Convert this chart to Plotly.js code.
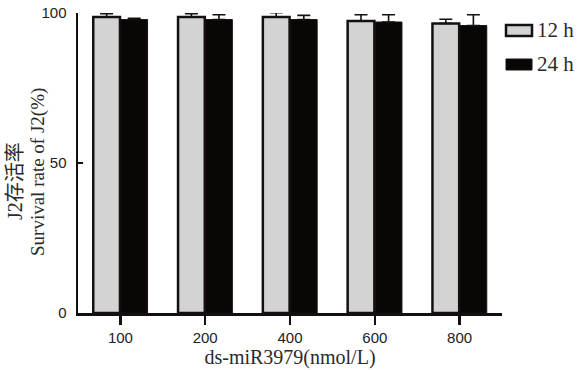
<!DOCTYPE html>
<html>
<head>
<meta charset="utf-8">
<script src="https://cdn.plot.ly/plotly-3.0.1.min.js"></script>
<style>html,body{margin:0;padding:0;background:#fff;}#chart{width:582px;height:370px;}</style>
</head>
<body>
<div id="chart"></div>
<script>
// ---- data ----
const categories = ["100", "200", "400", "600", "800"];
const seriesNames = ["12 h", "24 h"];
const survival12h = [98.7, 98.7, 98.7, 97.3, 96.5];
const survival24h = [97.8, 97.8, 97.8, 97.0, 95.8];
const err12h = [1.1, 1.1, 1.4, 2.1, 1.4];
const err24h = [0.4, 1.6, 1.4, 2.4, 3.6];
const yTickVals = [0, 50, 100];
const xTitle = "ds-miR3979(nmol/L)";
const yTitleLine1 = "J2存活率";
const yTitleLine2 = "Survival rate of J2(%)";

const serif = "'Liberation Serif', 'Times New Roman', 'Noto Sans CJK SC', serif";
const sans = "'Liberation Sans', Arial, sans-serif";
const ink = "#141010";

function zeros(n){ const a=[]; for(let i=0;i<n;i++) a.push(0); return a; }

const traces = [
  {
    type: "bar", name: seriesNames[0], x: categories, y: survival12h,
    marker: {color: "#d3d3d3", line: {color: ink, width: 2.5}},
    error_y: {type: "data", array: err12h, arrayminus: zeros(err12h.length), symmetric: false,
              color: ink, thickness: 1.6, width: 6.5},
    showlegend: false, hoverinfo: "none"
  },
  {
    type: "bar", name: seriesNames[1], x: categories, y: survival24h,
    marker: {color: "#0a0606", line: {color: ink, width: 1}},
    error_y: {type: "data", array: err24h, arrayminus: zeros(err24h.length), symmetric: false,
              color: ink, thickness: 1.6, width: 6.5},
    showlegend: false, hoverinfo: "none"
  }
];

// plot area in pixels: x 78..502, y 13..313
const L = 78, R = 502, T = 13, B = 313;
const px = v => (v - L) / (R - L);
const py = v => (B - v) / (B - T);

const layout = {
  width: 582, height: 370,
  margin: {l: L, r: 582 - R, t: T, b: 370 - B, pad: 0},
  paper_bgcolor: "#ffffff", plot_bgcolor: "#ffffff",
  barmode: "group", bargap: 0.35, bargroupgap: 0.03,
  showlegend: false,
  xaxis: {
    type: "category", range: [-0.5, 4.5],
    showline: true, linecolor: ink, linewidth: 2.5,
    ticks: "outside", ticklen: 9, tickwidth: 2.5, tickcolor: ink,
    showgrid: false, zeroline: false,
    tickfont: {family: sans, size: 15, color: "#222"},
    title: {text: xTitle, font: {family: serif, size: 20, color: "#2a2a2a"}, standoff: 6}
  },
  yaxis: {
    range: [0, 100], tickvals: yTickVals, ticktext: yTickVals.map(String),
    showline: true, linecolor: ink, linewidth: 2.5,
    ticks: "inside", ticklen: 5, tickwidth: 2.5, tickcolor: ink,
    showgrid: false, zeroline: false,
    tickfont: {family: sans, size: 15, color: "#222"},
    ticklabelstandoff: 6
  },
  shapes: [
    {type: "rect", xref: "paper", yref: "paper", x0: px(506), x1: px(532), y0: py(36), y1: py(25),
     fillcolor: "#d3d3d3", line: {color: ink, width: 2.5}},
    {type: "rect", xref: "paper", yref: "paper", x0: px(506), x1: px(532), y0: py(70), y1: py(59),
     fillcolor: "#0a0606", line: {color: ink, width: 1}}
  ],
  annotations: [
    {text: seriesNames[0], xref: "paper", yref: "paper", x: px(535), y: py(30), xanchor: "left", yanchor: "middle",
     showarrow: false, font: {family: serif, size: 21, color: "#2a2a2a"}},
    {text: seriesNames[1], xref: "paper", yref: "paper", x: px(535), y: py(64), xanchor: "left", yanchor: "middle",
     showarrow: false, font: {family: serif, size: 21, color: "#2a2a2a"}},
    {text: yTitleLine1, xref: "paper", yref: "paper", x: px(15), y: py(181), xanchor: "center", yanchor: "middle",
     textangle: -90, showarrow: false, font: {family: serif, size: 20, color: "#2a2a2a"}},
    {text: yTitleLine2, xref: "paper", yref: "paper", x: px(38), y: py(172), xanchor: "center", yanchor: "middle",
     textangle: -90, showarrow: false, font: {family: serif, size: 19, color: "#2a2a2a"}}
  ]
};

Plotly.newPlot("chart", traces, layout, {staticPlot: true, displayModeBar: false});
</script>
</body>
</html>
